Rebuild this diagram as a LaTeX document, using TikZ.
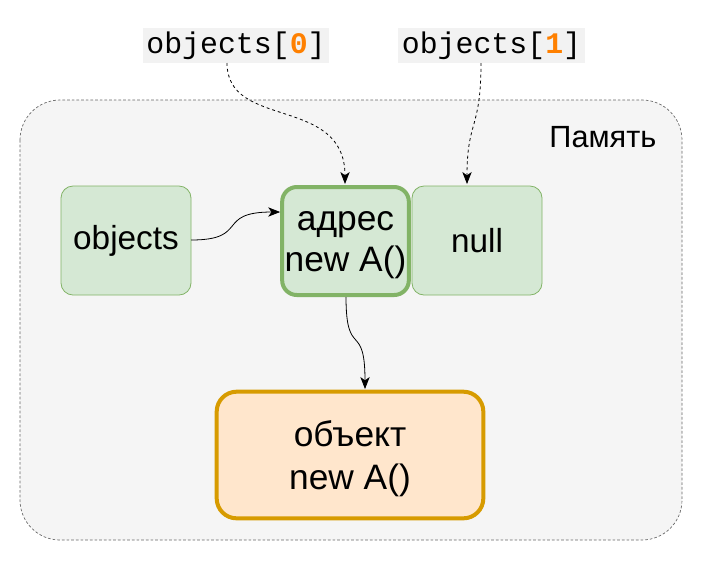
\documentclass[tikz,border=0pt]{standalone}
\usepackage{fontspec}
\setmainfont{Liberation Sans}
\newfontfamily\monofnt{Liberation Mono}
\usetikzlibrary{arrows.meta}
\definecolor{memfill}{HTML}{F5F5F5}
\definecolor{memline}{HTML}{666666}
\definecolor{gfill}{HTML}{D5E8D4}
\definecolor{gline}{HTML}{82B366}
\definecolor{ofill}{HTML}{FFE6CC}
\definecolor{oline}{HTML}{D79B00}
\definecolor{lblbg}{HTML}{F2F2F2}
\definecolor{orng}{HTML}{FF8000}
\tikzset{
  gbox/.style={draw=gline, fill=gfill, rounded corners=9pt, line width=0.6pt, inner sep=0pt, font=\fontsize{25}{28}\selectfont, align=center},
  gboxthick/.style={gbox, line width=3pt, rounded corners=11pt},
  obox/.style={draw=oline, fill=ofill, rounded corners=15pt, line width=3pt, inner sep=0pt},
  boxtext/.style={align=center, inner sep=0pt, font=\fontsize{26.5}{31}\selectfont},
  lbl/.style={fill=lblbg, inner sep=0pt, font=\monofnt\fontsize{22.4}{24}\selectfont},
  conn/.style={-{Stealth[length=9pt,width=7pt,inset=2.5pt]}, line width=0.6pt},
}
\begin{document}
\begin{tikzpicture}[x=0.75pt,y=-0.75pt]
\useasboundingbox (0,0) rectangle (705,562);
% memory container
\draw[fill=memfill, draw=memline, dashed, dash pattern=on 2pt off 1.5pt, line width=0.5pt, rounded corners=30pt] (20,100) rectangle (682,540);
\node[anchor=east, font=\fontsize{23}{24}\selectfont] (mem) at (661,137) {Память};
% boxes
\node[gbox, minimum width=97.5pt, minimum height=81.75pt] (objs) at (126,240.5) {objects};
\node[gbox, minimum width=97.5pt, minimum height=81.75pt] (null) at (477,240.5) {null};
\node[gboxthick, minimum width=95pt, minimum height=81pt,
  label={[name=addrtxt, boxtext, yshift=-3pt]center:адрес\\new A()}] (addr) at (345.5,241) {};
\node[obox, minimum width=200pt, minimum height=95pt,
  label={[name=objtxt, boxtext, yshift=-3pt]center:объект\\[1.5pt]new A()}] (obj) at (350,455) {};
% labels
\node[lbl, minimum width=139.5pt, minimum height=26.25pt] (l0) at (236,45.5) {objects[\textcolor{orng}{\textbf{0}}]};
\node[lbl, minimum width=140.25pt, minimum height=26.25pt] (l1) at (491.5,45.5) {objects[\textcolor{orng}{\textbf{1}}]};
% connectors
\coordinate (l0s) at (227,63);
\coordinate (l1s) at (481,63);
\coordinate (addrL) at (addr.west |- 0,212);
\coordinate (objsR) at (191,240);
\coordinate (addrB) at (346,297);
\coordinate (objT) at (365,389);
\coordinate (addrT) at (345,184);
\coordinate (nullT) at (467,184);
\draw[conn] (objsR) .. controls (250,240) and (215,212) .. (addrL);
\draw[conn, dashed, dash pattern=on 2.2pt off 2.2pt] (l0s) .. controls (227,130) and (345,95) .. (addrT);
\draw[conn, dashed, dash pattern=on 2.2pt off 2.2pt] (l1s) .. controls (481,130) and (467,120) .. (nullT);
\draw[conn] (addrB) .. controls (346,360) and (365,320) .. (objT);
\end{tikzpicture}
\end{document}
